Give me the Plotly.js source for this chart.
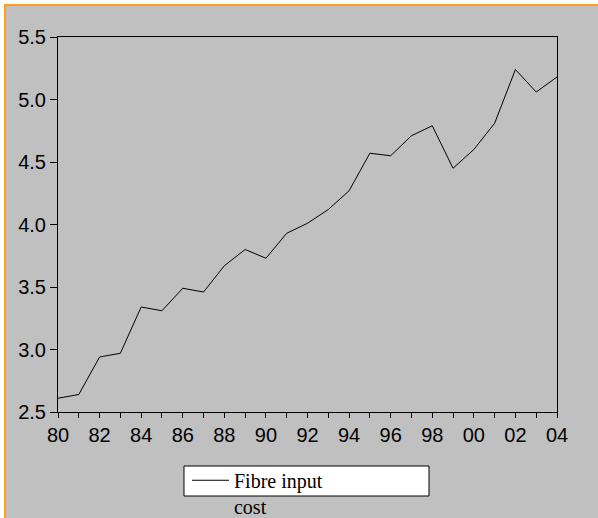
<!DOCTYPE html>
<html>
<head>
<meta charset="utf-8">
<script src="https://cdn.plot.ly/plotly-3.0.1.min.js"></script>
<style>
  html, body { margin: 0; padding: 0; background: #ffffff; }
  #frame { position: absolute; left: 4px; top: 4px; width: 594px; height: 514px;
           border-top: 2px solid #ff9f1a; border-left: 2px solid #ff9f1a; background: #c0c0c0; box-sizing: border-box; }
  #chart { width: 592px; height: 512px; }
</style>
</head>
<body>
<div id="frame"><div id="chart"></div></div>
<script>
const years = [1980,1981,1982,1983,1984,1985,1986,1987,1988,1989,1990,1991,1992,1993,1994,1995,1996,1997,1998,1999,2000,2001,2002,2003,2004];
const fibreInputCost = [2.61,2.64,2.94,2.97,3.34,3.31,3.49,3.46,3.67,3.80,3.73,3.93,4.01,4.12,4.27,4.57,4.55,4.71,4.79,4.45,4.60,4.81,5.24,5.06,5.18];
const seriesName = 'Fibre input<br>cost';
const xTickVals = years;
const xTickText = ['80','','82','','84','','86','','88','','90','','92','','94','','96','','98','','00','','02','','04'];
const yTickVals = [2.5,3.0,3.5,4.0,4.5,5.0,5.5];
const yTickText = ['2.5','3.0','3.5','4.0','4.5','5.0','5.5'];

const trace = {
  x: years, y: fibreInputCost, type: 'scatter', mode: 'lines',
  name: seriesName, line: {color: '#000000', width: 1}
};

const layout = {
  width: 592, height: 512,
  margin: {l: 52, r: 41, t: 31, b: 106, autoexpand: false},
  paper_bgcolor: '#c0c0c0', plot_bgcolor: '#c0c0c0',
  font: {family: 'Liberation Sans, Arial, sans-serif', size: 20, color: '#000'},
  xaxis: {
    range: [1980, 2004], tickmode: 'array', tickvals: xTickVals, ticktext: xTickText,
    ticks: 'outside', ticklen: 5, tickcolor: '#000', tickwidth: 1,
    showline: true, linecolor: '#000', linewidth: 1, mirror: true,
    showgrid: false, zeroline: false, tickfont: {size: 20}, automargin: false
  },
  yaxis: {
    range: [2.5, 5.5], tickmode: 'array', tickvals: yTickVals, ticktext: yTickText,
    ticks: 'outside', ticklen: 7, tickcolor: '#000', tickwidth: 1,
    showline: true, linecolor: '#000', linewidth: 1, mirror: true,
    showgrid: false, zeroline: false, tickfont: {size: 20}, automargin: false
  },
  showlegend: true,
  legend: {
    x: 0.2585, y: -0.13, xanchor: 'left', yanchor: 'top', valign: 'top',
    bgcolor: 'rgba(0,0,0,0)', borderwidth: 0, itemwidth: 37,
    font: {family: 'Liberation Serif, Times New Roman, serif', size: 20, color: '#000'}
  },
  shapes: [{
    type: 'rect', xref: 'paper', yref: 'paper', layer: 'above',
    x0: 0.2525, x1: 0.7435, y0: -0.224, y1: -0.144,
    fillcolor: '#ffffff', line: {color: '#000', width: 1}
  }]
};

Plotly.newPlot('chart', [trace], layout, {displayModeBar: false, staticPlot: true});
</script>
</body>
</html>
